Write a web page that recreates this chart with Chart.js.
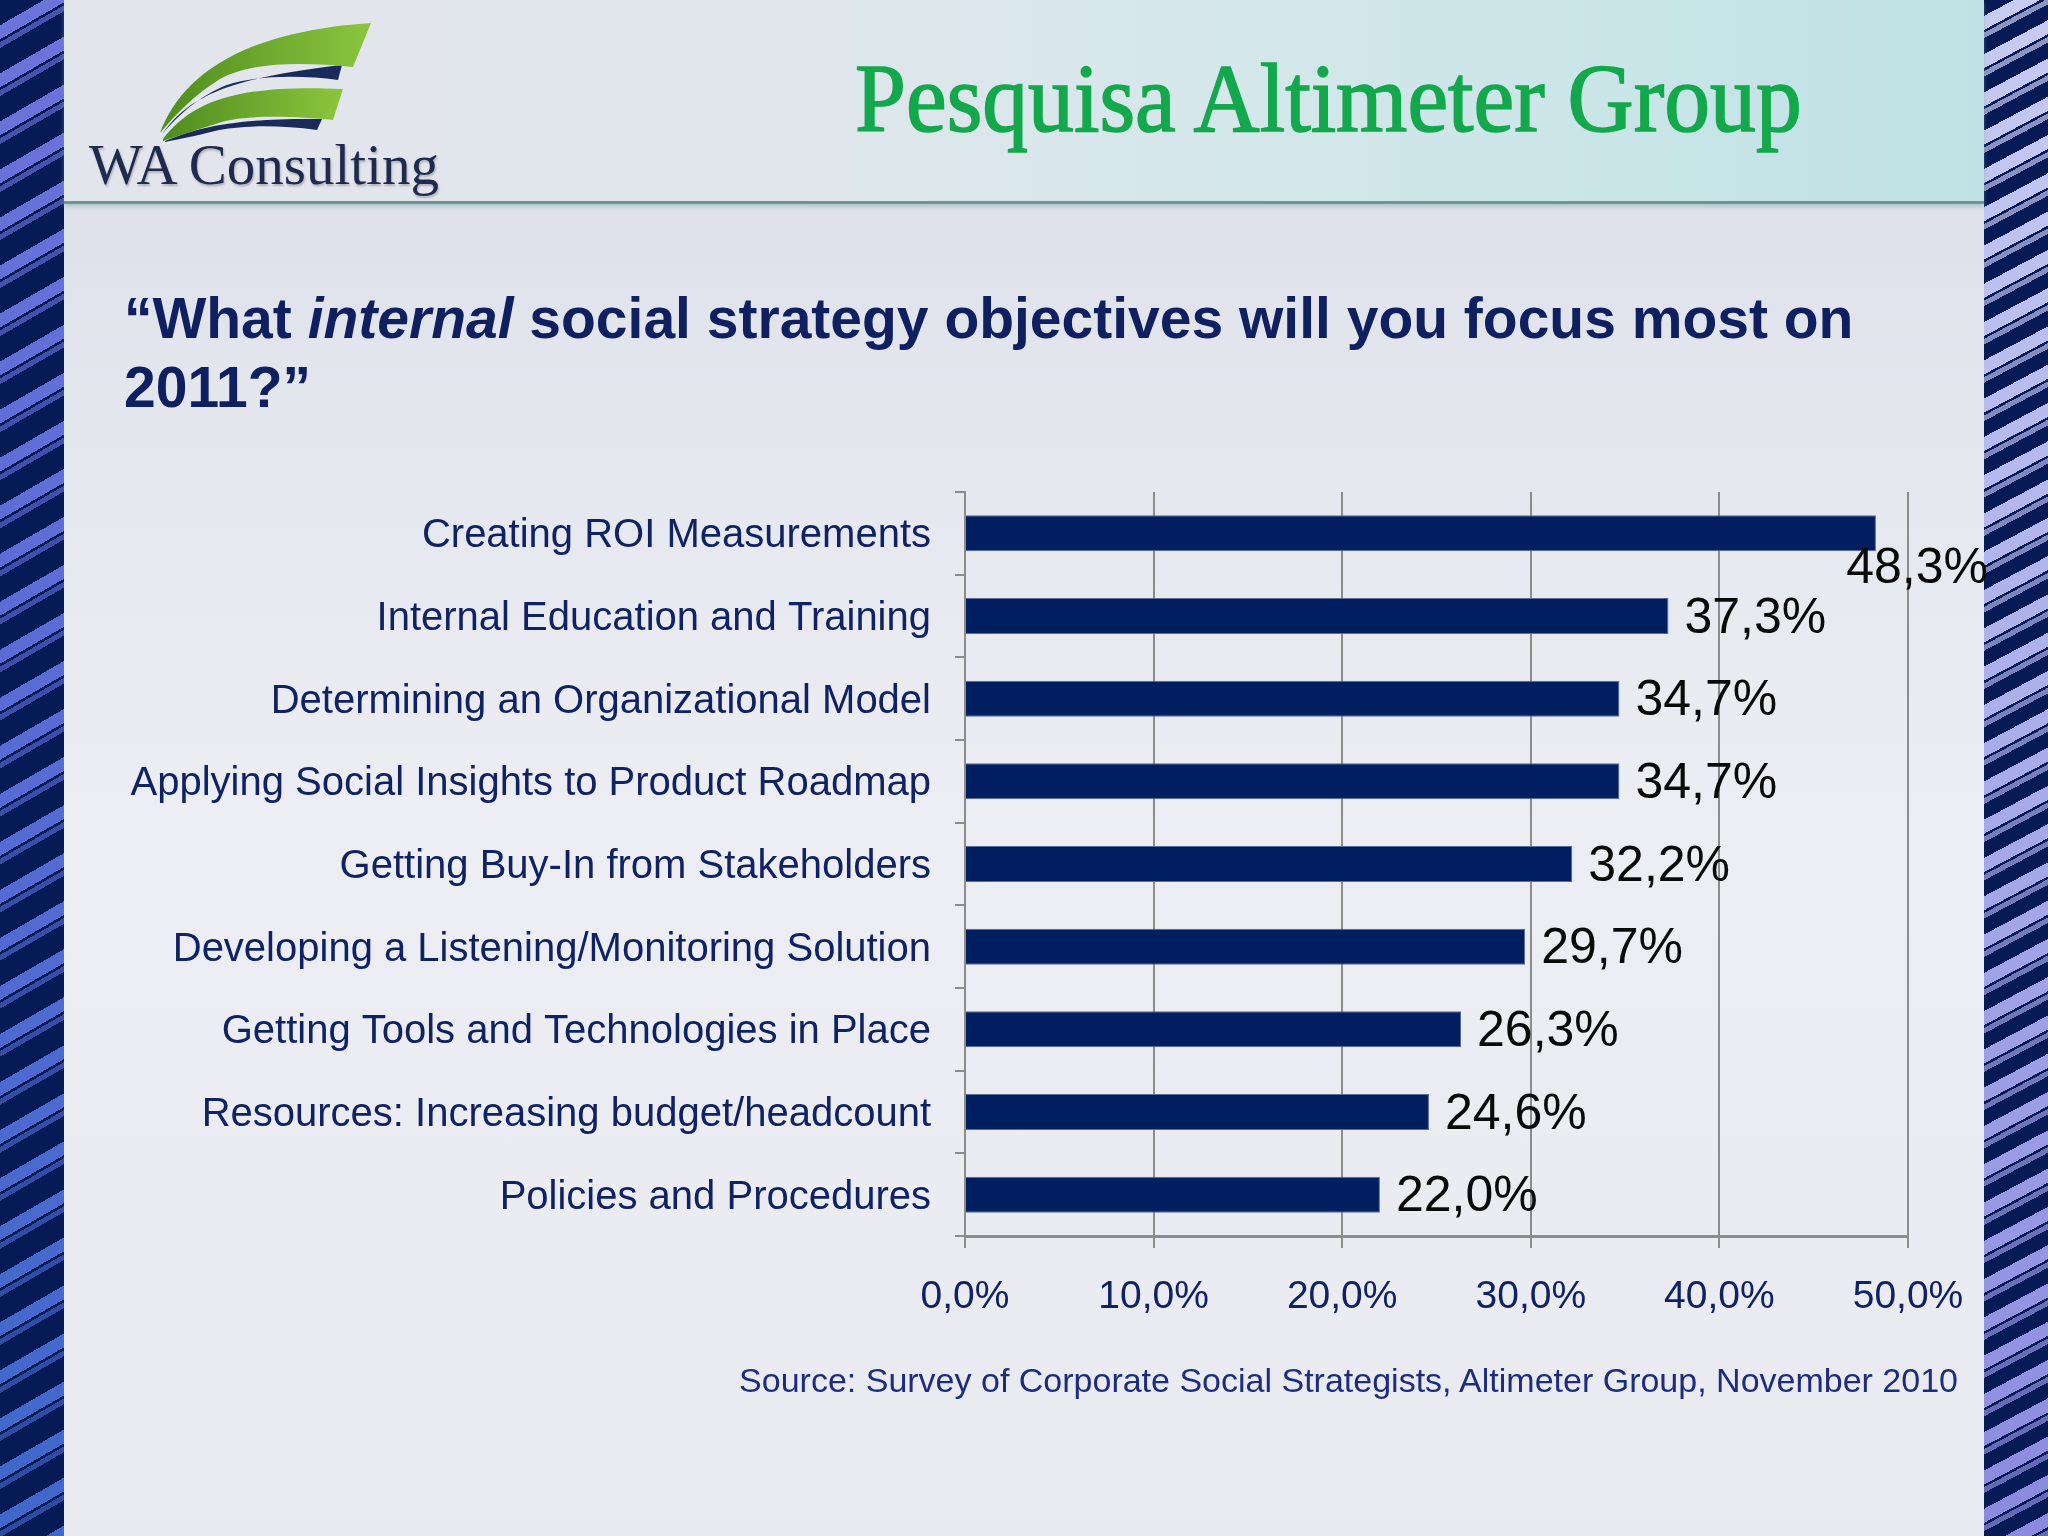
<!DOCTYPE html>
<html>
<head>
<meta charset="utf-8">
<script src="https://cdn.jsdelivr.net/npm/chart.js@4.4.1/dist/chart.umd.min.js"></script>
<style>
  html, body { margin: 0; padding: 0; }
  body { width: 2048px; height: 1536px; overflow: hidden; position: relative;
         background: linear-gradient(180deg, #d8dbe5 0%, #e4e6ee 25%, #eceef3 55%, #e9eaf0 100%); }
  .stripe { position: absolute; top: 0; width: 64px; height: 1536px; }
  #leftStripe { left: 0;
    background:
      repeating-linear-gradient(150deg, #061a55 0px, #061a55 22px, transparent 22px, transparent 34px,
        #061a55 34px, #061a55 36.6px, rgba(6,26,85,0.35) 36.6px, rgba(6,26,85,0.35) 41.6px, #061a55 41.6px),
      linear-gradient(180deg, #6c74da 0%, #5c6cd6 40%, #3e68ca 100%); }
  #rightStripe { left: 1984px;
    background:
      repeating-linear-gradient(152deg, #061a55 0px, #061a55 14px, transparent 14px, transparent 26.4px,
        #061a55 26.4px, #061a55 28.8px, rgba(6,26,85,0.3) 28.8px, rgba(6,26,85,0.3) 33.8px, #061a55 33.8px),
      linear-gradient(180deg, #c8ccf2 0%, #a8acea 50%, #8a8ade 100%); }
  #header { position: absolute; left: 64px; top: 0; width: 1920px; height: 201px;
    background: linear-gradient(90deg, #e3e5ec 0%, #e1e6ec 35%, #d2e7ea 65%, #bfe2e5 100%);
    border-bottom: 3px solid #6f9494; box-shadow: 0 3px 4px rgba(120,170,170,0.45); }
  #logo { position: absolute; left: 0; top: 0; }
  #logoText { position: absolute; left: 89px; top: 136px; font-family: 'Liberation Serif', serif;
    font-size: 57px; line-height: 1; color: #1e2b4f; white-space: nowrap;
    text-shadow: 1px 2px 2px rgba(80,80,90,0.35); }
  #title { position: absolute; left: 855px; top: 49px; font-family: 'Liberation Serif', serif;
    font-size: 98px; line-height: 1; color: #14a84c; white-space: nowrap;
    -webkit-text-stroke: 1.6px #14a84c; transform: scaleX(0.935); transform-origin: left top; }
  #question { position: absolute; left: 124px; top: 284px; font-family: 'Liberation Sans', Arial, sans-serif;
    font-weight: bold; font-size: 57px; line-height: 69px; color: #0f2060; white-space: nowrap; }
  #source { position: absolute; right: 90px; top: 1363px; font-family: 'Liberation Sans', Arial, sans-serif;
    font-size: 34px; line-height: 1; color: #1c2d80; white-space: nowrap; }
  #chart { position: absolute; left: 0; top: 0; }
</style>
</head>
<body>
<div id="leftStripe" class="stripe"></div>
<div id="rightStripe" class="stripe"></div>
<div id="header"></div>

<svg id="logo" width="500" height="210" viewBox="0 0 500 210">
  <defs>
    <linearGradient id="green" x1="0" y1="0" x2="1" y2="0">
      <stop offset="0" stop-color="#4e8c1e"/>
      <stop offset="1" stop-color="#8cc63f"/>
    </linearGradient>
  </defs>
  <path d="M162,134 C190,95 230,78 342,65 L338,80 C300,75 250,75 222,87 C195,99 178,116 162,134 Z" fill="#1a2a5a"/>
  <path d="M160,133 C180,80 235,32 371,23 L353,67 C300,62 250,62 220,79 C195,94 175,115 160,133 Z" fill="url(#green)"/>
  <path d="M165,141 C200,126 240,118 322,119 L317,130 C280,125 240,125 215,131 C195,136 180,139 165,142 Z" fill="#1a2a5a"/>
  <path d="M163,139 C192,102 235,84 343,89 L333,120 C300,117 250,114 222,122 C195,130 178,136 163,141 Z" fill="url(#green)"/>
</svg>
<div id="logoText">WA Consulting</div>

<div id="title">Pesquisa Altimeter Group</div>
<div id="question">“What <i>internal</i> social strategy objectives will you focus most on<br>2011?”</div>

<canvas id="chart" width="2048" height="1536"></canvas>

<div id="source">Source: Survey of Corporate Social Strategists, Altimeter Group, November 2010</div>

<script>
// categorias (de cima para baixo)
const categories = [
  'Creating ROI Measurements',
  'Internal Education and Training',
  'Determining an Organizational Model',
  'Applying Social Insights to Product Roadmap',
  'Getting Buy-In from Stakeholders',
  'Developing a Listening/Monitoring Solution',
  'Getting Tools and Technologies in Place',
  'Resources: Increasing budget/headcount',
  'Policies and Procedures'
];
// % de respondentes
const values = [48.3, 37.3, 34.7, 34.7, 32.2, 29.7, 26.3, 24.6, 22.0];
// ticks do eixo x
const xTickValues = [0, 10, 20, 30, 40, 50];

const pct = v => v.toFixed(1).replace('.', ',') + '%';

const NAVY = '#0f2263';
const GRID = '#8c8c8c';

// rotulos de valor ao lado das barras
const valueLabels = {
  id: 'valueLabels',
  afterDatasetsDraw(chart) {
    const ctx = chart.ctx;
    const meta = chart.getDatasetMeta(0);
    const limit = 1988;
    ctx.save();
    ctx.font = '50px "Liberation Sans", Arial, sans-serif';
    ctx.fillStyle = '#0a0a0a';
    ctx.textBaseline = 'middle';
    ctx.textAlign = 'left';
    meta.data.forEach((bar, i) => {
      const txt = pct(values[i]);
      const w = ctx.measureText(txt).width;
      let x = bar.x + 16, y = bar.y + 3;
      if (x + w > limit) { x = limit - w; y += 33; }
      ctx.fillText(txt, x, y);
    });
    ctx.restore();
  }
};

new Chart(document.getElementById('chart').getContext('2d'), {
  type: 'bar',
  data: {
    labels: categories,
    datasets: [{
      data: values,
      backgroundColor: '#001e60',
      borderColor: '#5a6a96',
      borderWidth: 1,
      barPercentage: 0.435,
      categoryPercentage: 1
    }]
  },
  options: {
    indexAxis: 'y',
    responsive: false,
    animation: false,
    devicePixelRatio: 1,
    layout: { padding: { left: 0, right: 140, top: 492, bottom: 200 } },
    plugins: { legend: { display: false }, tooltip: { enabled: false } },
    scales: {
      y: {
        offset: true,
        grid: { drawOnChartArea: false, drawTicks: true, tickLength: 10, offset: true, color: GRID, lineWidth: 2 },
        border: { display: true, color: GRID, width: 2 },
        ticks: { color: NAVY, padding: 24, labelOffset: 3,
                 font: { family: '"Liberation Sans", Arial, sans-serif', size: 40 } },
        afterFit: s => { s.width = 965; }
      },
      x: {
        min: 0,
        max: 50,
        afterBuildTicks: axis => { axis.ticks = xTickValues.map(v => ({ value: v })); },
        grid: { color: GRID, lineWidth: 2, drawTicks: true, tickLength: 12 },
        border: { display: true, color: GRID, width: 3 },
        ticks: { color: NAVY, padding: 26, callback: v => pct(v),
                 font: { family: '"Liberation Sans", Arial, sans-serif', size: 39 } },
        afterFit: s => { s.height = 100; }
      }
    }
  },
  plugins: [valueLabels]
});
</script>
</body>
</html>
